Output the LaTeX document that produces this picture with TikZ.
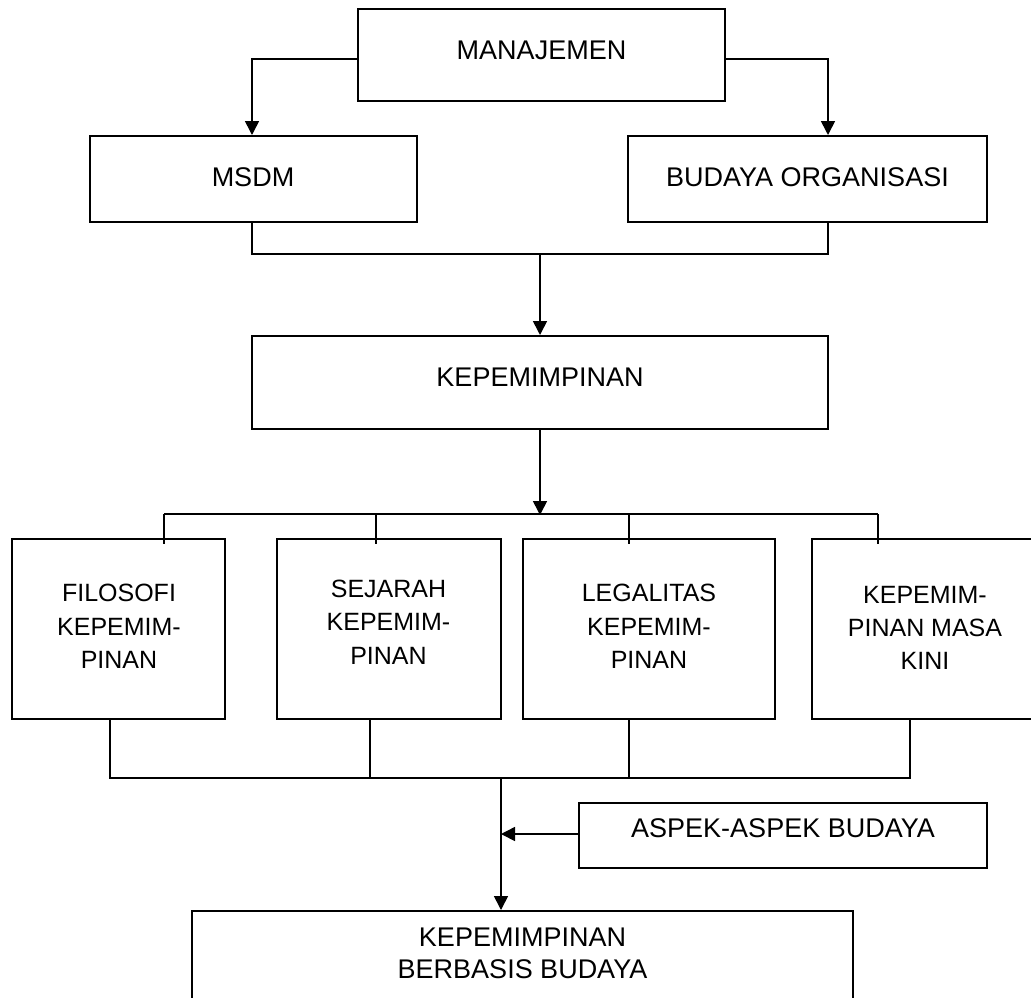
\documentclass[tikz,border=0pt]{standalone}
\usepackage{fontspec}
\setmainfont{Liberation Sans}
\usetikzlibrary{arrows.meta,calc}
\begin{document}
\begin{tikzpicture}[x=1pt,y=-1pt,
  box/.style={draw=black, line width=2pt, rectangle, inner sep=0pt},
  lbl/.style={inner sep=0pt, align=center, font=\fontsize{27}{32}\selectfont},
  lbls/.style={inner sep=0pt, align=center, font=\fontsize{25}{33.3}\selectfont},
  conn/.style={draw=black, line width=1.6pt},
  arr/.style={conn, -{Triangle[length=14pt,width=14pt]}},
  thinline/.style={draw=black, line width=1.2pt}]
\useasboundingbox (0,0) rectangle (1031,997);
\clip (0,0) rectangle (1031,997);
\fill[white] (0,0) rectangle (1031,997);

% boxes
\node[box, minimum width=367pt, minimum height=92pt] (man) at (541.5,55) {};
\node[box, minimum width=327pt, minimum height=86pt] (msdm) at (253.5,179) {};
\node[box, minimum width=359pt, minimum height=86pt] (bud) at (807.5,179) {};
\node[box, minimum width=576pt, minimum height=93pt] (kep) at (540,382.5) {};
\node[box, minimum width=213pt, minimum height=180pt] (fil) at (118.5,629) {};
\node[box, minimum width=224pt, minimum height=180pt] (sej) at (389,629) {};
\node[box, minimum width=252pt, minimum height=180pt] (leg) at (649,629) {};
\node[box, minimum width=226pt, minimum height=180pt] (kini) at (925,629) {};
\node[box, minimum width=408pt, minimum height=65pt] (asp) at (783,835.5) {};
\node[box, minimum width=661pt, minimum height=90pt] (ber) at (522.5,956) {};

% labels
\node[lbl] (manT) at (541.5,50) {MANAJEMEN};
\node[lbl] (msdmT) at (253,177) {MSDM};
\node[lbl] (budT) at (807.5,177) {BUDAYA ORGANISASI};
\node[lbl] (kepT) at (540,377) {KEPEMIMPINAN};
\node[lbls] (filT) at (119,626.5) {FILOSOFI\\KEPEMIM-\\PINAN};
\node[lbls] (sejT) at (388.5,622) {SEJARAH\\KEPEMIM-\\PINAN};
\node[lbls] (legT) at (649,626.5) {LEGALITAS\\KEPEMIM-\\PINAN};
\node[lbls] (kiniT) at (925,628) {KEPEMIM-\\PINAN MASA\\KINI};
\node[lbl] (aspT) at (783,828) {ASPEK-ASPEK BUDAYA};
\node[lbl] (berT) at (522.5,953) {KEPEMIMPINAN\\BERBASIS BUDAYA};

% top connectors
\draw[arr] ([yshift=-4pt]man.west) -| ([xshift=-1.5pt]msdm.north);
\draw[arr] ([yshift=-4pt]man.east) -| ([xshift=20.5pt]bud.north);
\coordinate (j) at (540,254);
\draw[conn] ([xshift=-1.5pt]msdm.south) |- (j) -| ([xshift=20.5pt]bud.south);
\draw[arr] (j) -- (kep.north);

% distribution
\coordinate (d) at (540,515);
\coordinate (dA) at (164,514);
\coordinate (dB) at (376,514);
\coordinate (dC) at (629,514);
\coordinate (dD) at (878,514);
\draw[arr] (kep.south) -- (d);
\draw[conn] (dA) -- (dD);
\draw[conn] (dA) -- ($(dA |- fil.north)+(0,6)$);
\draw[thinline] (dB) -- ($(dB |- sej.north)+(0,6)$);
\draw[thinline] (dC) -- ($(dC |- leg.north)+(0,6)$);
\draw[conn] (dD) -- ($(dD |- kini.north)+(0,6)$);

% collector
\coordinate (cA) at (110,778);
\coordinate (cB) at (370,778);
\coordinate (cC) at (629,778);
\coordinate (cD) at (910,778);
\coordinate (c0) at (501,778);
\draw[conn] (fil.south -| cA) -- (cA) -- (cD) -- (kini.south -| cD);
\draw[thinline] (sej.south -| cB) -- (cB);
\draw[thinline] (leg.south -| cC) -- (cC);
\draw[arr] (c0) -- (c0 |- ber.north);
\coordinate (a0) at (501,834);
\draw[arr] (asp.west |- a0) -- (a0);
\end{tikzpicture}
\end{document}
